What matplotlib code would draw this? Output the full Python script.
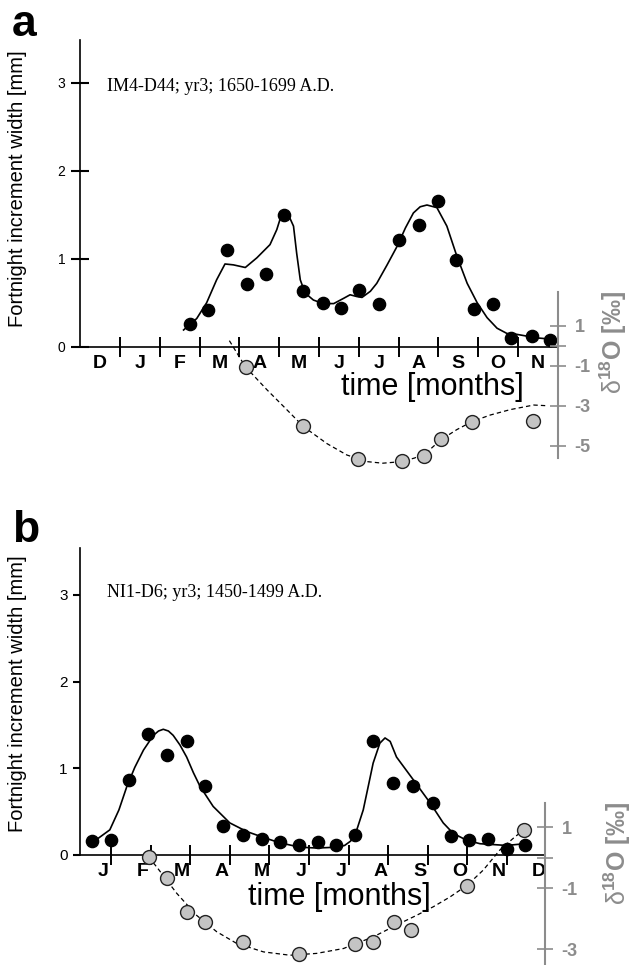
import numpy as np
import matplotlib
matplotlib.use('Agg')
import matplotlib.pyplot as plt

plt.rcParams['font.family'] = ['Liberation Sans', 'DejaVu Sans']
plt.rcParams['mathtext.fontset'] = 'custom'
plt.rcParams['mathtext.rm'] = 'Liberation Sans'
plt.rcParams['mathtext.bf'] = 'Liberation Sans:bold'

# ---------------- data ----------------
months_a = ['D', 'J', 'F', 'M', 'A', 'M', 'J', 'J', 'A', 'S', 'O', 'N']
months_b = ['J', 'F', 'M', 'A', 'M', 'J', 'J', 'A', 'S', 'O', 'N', 'D']

# panel a: growth increments (time in months, width in mm)
a_t = [2.76, 3.22, 3.68, 4.20, 4.66, 5.13, 5.61, 6.10, 6.56, 7.01, 7.51, 8.00,
       8.50, 8.98, 9.44, 9.90, 10.37, 10.83, 11.35, 11.81]
a_w = [0.26, 0.42, 1.10, 0.71, 0.83, 1.50, 0.63, 0.50, 0.44, 0.64, 0.49, 1.21,
       1.38, 1.65, 0.98, 0.43, 0.49, 0.10, 0.12, 0.08]
a_fit_t = [2.60, 2.93, 3.18, 3.43, 3.64, 3.85, 4.15, 4.44, 4.77, 4.94, 5.03, 5.13,
           5.23, 5.36, 5.44, 5.53, 5.65, 5.86, 6.11, 6.37, 6.62, 6.78, 6.95, 7.08,
           7.29, 7.45, 7.71, 7.96, 8.17, 8.37, 8.54, 8.71, 8.96, 9.21, 9.46, 9.72,
           9.97, 10.22, 10.47, 10.72, 10.97, 11.47, 11.98]
a_fit_w = [0.19, 0.32, 0.50, 0.76, 0.94, 0.93, 0.90, 1.01, 1.16, 1.33, 1.46, 1.52,
           1.50, 1.37, 1.06, 0.76, 0.61, 0.53, 0.49, 0.49, 0.55, 0.59, 0.57, 0.56,
           0.63, 0.72, 0.93, 1.14, 1.35, 1.52, 1.59, 1.61, 1.58, 1.37, 1.03, 0.72,
           0.50, 0.33, 0.21, 0.15, 0.14, 0.10, 0.08]
# panel a: delta 18O (permil)
a_o_t = [4.16, 5.61, 6.99, 8.08, 8.63, 9.06, 9.84, 11.37]
a_o_v = [-1.05, -4.00, -5.68, -5.77, -5.52, -4.68, -3.80, -3.75]
a_ofit_t = [3.75, 4.15, 4.69, 5.19, 5.61, 6.20, 6.70, 7.20, 7.60, 8.08, 8.40,
            8.70, 9.05, 9.46, 9.84, 10.30, 10.80, 11.39, 11.68]
a_ofit_v = [0.25, -1.05, -2.20, -3.20, -4.05, -4.90, -5.47, -5.80, -5.88, -5.80,
            -5.62, -5.35, -4.72, -4.20, -3.80, -3.47, -3.20, -2.97, -3.00]

# panel b: growth increments
b_t = [0.51, 1.00, 1.46, 1.94, 2.42, 2.91, 3.37, 3.84, 4.34, 4.82, 5.28, 5.76,
       6.22, 6.68, 7.16, 7.62, 8.13, 8.62, 9.12, 9.58, 10.05, 10.51, 10.99, 11.45]
b_w = [0.16, 0.17, 0.87, 1.40, 1.15, 1.32, 0.79, 0.33, 0.23, 0.18, 0.15, 0.12,
       0.15, 0.11, 0.23, 1.31, 0.83, 0.80, 0.60, 0.22, 0.17, 0.19, 0.07, 0.12]
b_fit_t = [0.55, 0.97, 1.20, 1.40, 1.60, 1.82, 2.07, 2.20, 2.32, 2.45, 2.57, 2.74,
           2.91, 3.08, 3.25, 3.58, 4.00, 4.43, 4.93, 5.27, 5.77, 6.20, 6.70, 6.90,
           7.05, 7.20, 7.37, 7.50, 7.62, 7.79, 7.92, 8.05, 8.21, 8.63, 9.06, 9.39,
           9.64, 9.98, 10.32, 10.99, 11.45]
b_fit_w = [0.15, 0.29, 0.52, 0.79, 1.01, 1.21, 1.38, 1.43, 1.45, 1.43, 1.38, 1.27,
           1.13, 0.95, 0.79, 0.56, 0.37, 0.27, 0.19, 0.14, 0.09, 0.08, 0.09, 0.11,
           0.16, 0.28, 0.52, 0.80, 1.06, 1.29, 1.35, 1.31, 1.13, 0.87, 0.60, 0.37,
           0.25, 0.17, 0.13, 0.11, 0.13]
# panel b: delta 18O
b_o_t = [1.96, 2.42, 2.91, 3.37, 4.34, 5.76, 7.16, 7.62, 8.15, 8.58, 10.00, 11.43]
b_o_v = [0.03, -0.68, -1.77, -2.10, -2.76, -3.15, -2.83, -2.75, -2.12, -2.37, -0.92, 0.92]
b_ofit_t = [1.95, 2.15, 2.66, 3.16, 3.67, 4.17, 4.85, 5.52, 6.19, 6.87, 7.16, 7.62,
            8.21, 8.72, 9.14, 9.56, 10.00, 10.40, 10.82, 11.20, 11.44]
b_ofit_v = [0.02, -0.30, -1.17, -1.89, -2.43, -2.81, -3.09, -3.20, -3.14, -2.98,
            -2.83, -2.60, -2.21, -1.89, -1.61, -1.29, -0.90, -0.41, 0.25, 0.68, 0.92]

# ---------------- layout ----------------
W, H = 637, 965
fig = plt.figure(figsize=(W / 100, H / 100), dpi=100)
GRAY = '#8c8c8c'


def box(l, t, r, b):
    return [l / W, 1 - b / H, (r - l) / W, (b - t) / H]


def panel(rect, xlim, ylim, ylim2, rbounds, months, lab_pos, t, w, ft, fw,
          ot, ov, oft, ofv, rticks, rlabels, left_dir, left_len, left_size):
    ax = fig.add_axes(rect)
    ax.set_xlim(*xlim)
    ax.set_ylim(*ylim)
    ax.patch.set_visible(False)
    for s in ['top', 'right']:
        ax.spines[s].set_visible(False)
    ax.spines['bottom'].set_position(('data', 0))
    ax.spines['bottom'].set_bounds(*xlim)
    ax.spines['left'].set_bounds(0, ylim[1])
    for s in ['bottom', 'left']:
        ax.spines[s].set_linewidth(1.2)
    ax.set_xticks(np.arange(1, 12))
    ax.set_xticklabels([])
    ax.set_xticks(lab_pos, minor=True)
    ax.set_xticklabels(months, minor=True, fontsize=14, fontweight='bold')
    ax.tick_params(axis='x', which='major', direction='inout', length=15, width=1.4)
    ax.tick_params(axis='x', which='minor', length=0, pad=6)
    ax.set_yticks([0, 1, 2, 3])
    ax.tick_params(axis='y', direction=left_dir, length=left_len, width=1.5,
                   labelsize=left_size, pad=4)
    ax.plot(ft, fw, color='black', lw=1.2, zorder=3, clip_on=False)
    ax.plot(t, w, 'o', color='black', ms=8.8, zorder=4, clip_on=False)

    ax2 = ax.twinx()
    ax2.set_ylim(*ylim2)
    for s in ['top', 'left', 'bottom']:
        ax2.spines[s].set_visible(False)
    ax2.spines['right'].set_bounds(*rbounds)
    ax2.spines['right'].set_color(GRAY)
    ax2.spines['right'].set_linewidth(1.5)
    ax2.set_yticks(rticks)
    ax2.set_yticklabels(rlabels, fontsize=13, fontweight='bold', color=GRAY)
    ax2.tick_params(axis='y', direction='inout', length=12, width=1.2,
                    color=GRAY, pad=6)
    ax2.plot(oft, ofv, color='black', lw=0.9, ls=(0, (3.5, 2.5)), zorder=3,
             clip_on=False)
    ax2.plot(ot, ov, 'o', mfc='#c4c4c4', mec='#222222', mew=1.0, ms=10,
             zorder=4, clip_on=False)
    return ax, ax2


# panel a
panel(box(80, 40, 558, 470), (0, 12), (-1.401, 3.485), (-6.22, 15.29), (-5.6, 2.7),
      months_a, np.arange(12) + 0.5, a_t, a_w, a_fit_t, a_fit_w,
      a_o_t, a_o_v, a_ofit_t, a_ofit_v, [1, 0, -1, -3, -5],
      ['1', '', '-1', '-3', '-5'], 'inout', 13, 10)

# panel b
panel(box(80, 548, 545, 965), (0.217, 11.96), (-1.269, 3.541), (-3.52, 10.15),
      (-3.6, 1.78), months_b, np.arange(12) + 0.8, b_t, b_w, b_fit_t, b_fit_w,
      b_o_t, b_o_v, b_ofit_t, b_ofit_v, [1, 0, -1, -3],
      ['1', '', '-1', '-3'], 'out', 5, 11)

# texts
def ft(x, y, s, **kw):
    fig.text(x / W, 1 - y / H, s, **kw)

ft(12, 36, 'a', fontsize=32, fontweight='bold', ha='left', va='baseline')
ft(12, 542, 'b', fontsize=32, fontweight='bold', ha='left', va='baseline')
ft(107, 91, 'IM4-D44; yr3; 1650-1699 A.D.', family='Liberation Serif',
   fontsize=13, ha='left', va='baseline')
ft(107, 597, 'NI1-D6; yr3; 1450-1499 A.D.', family='Liberation Serif',
   fontsize=13, ha='left', va='baseline')
ft(18, 189, 'Fortnight increment width [mm]', rotation=90, fontsize=14.5,
   ha='center', va='center')
ft(18, 694, 'Fortnight increment width [mm]', rotation=90, fontsize=14.5,
   ha='center', va='center')
ft(432, 395, 'time [months]', fontsize=22, ha='center', va='baseline')
ft(339, 905, 'time [months]', fontsize=22, ha='center', va='baseline')
lab = r'$\mathrm{\delta}^{\mathbf{18}}$O [‰]'
ft(613, 343, lab, rotation=90, fontsize=18, fontweight='bold', color=GRAY,
   ha='center', va='center')
ft(617, 854, lab, rotation=90, fontsize=18, fontweight='bold', color=GRAY,
   ha='center', va='center')

fig.savefig('out.png', dpi=100)
